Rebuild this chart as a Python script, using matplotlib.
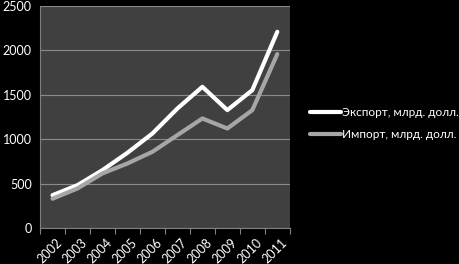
import matplotlib.pyplot as plt
import numpy as np

years = ["2002", "2003", "2004", "2005", "2006", "2007", "2008", "2009", "2010", "2011"]
export_vals = [370, 483, 652, 847, 1064, 1345, 1589, 1327, 1552, 2208]
import_vals = [330, 446, 615, 727, 858, 1046, 1233, 1120, 1327, 1957]
yticks = [0, 500, 1000, 1500, 2000, 2500]

plt.rcParams['font.family'] = ['Lato', 'DejaVu Sans']

fig = plt.figure(figsize=(4.6, 2.64), dpi=100, facecolor="black")
ax = fig.add_axes([0.087, 0.136, 0.543, 0.842])
ax.set_facecolor("#404040")

x = np.arange(len(years))
ax.plot(x, export_vals, color="white", lw=3, solid_capstyle="round", label="Экспорт, млрд. долл.")
ax.plot(x, import_vals, color="#a6a6a6", lw=3, solid_capstyle="round", label="Импорт, млрд. долл.")

ax.set_xlim(-0.5, len(years) - 0.5)
ax.set_ylim(0, 2500)
ax.set_yticks(yticks)
ax.set_yticklabels([str(v) for v in yticks], color="white", fontsize=9)
ax.tick_params(axis="y", length=0, pad=6)

ax.set_xticks(np.arange(len(years) + 1) - 0.5)
ax.set_xticklabels([])
ax.tick_params(axis="x", length=4, color="#808080", direction="out")
for i, yr in enumerate(years):
    ax.text(i + 0.15, -90, yr, rotation=45, ha="right", va="top", rotation_mode="anchor",
            color="white", fontsize=9)

ax.grid(axis="y", color="#8a8a8a", lw=0.8)
ax.set_axisbelow(True)
for side in ["top", "right"]:
    ax.spines[side].set_visible(False)
for side in ["left", "bottom"]:
    ax.spines[side].set_color("#808080")

leg = ax.legend(loc="center left", bbox_to_anchor=(1.04, 0.47), frameon=False,
                fontsize=8.5, handlelength=2.6, handletextpad=0.1, labelspacing=0.9)
for t in leg.get_texts():
    t.set_color("white")

fig.savefig("out.png", facecolor="black")
